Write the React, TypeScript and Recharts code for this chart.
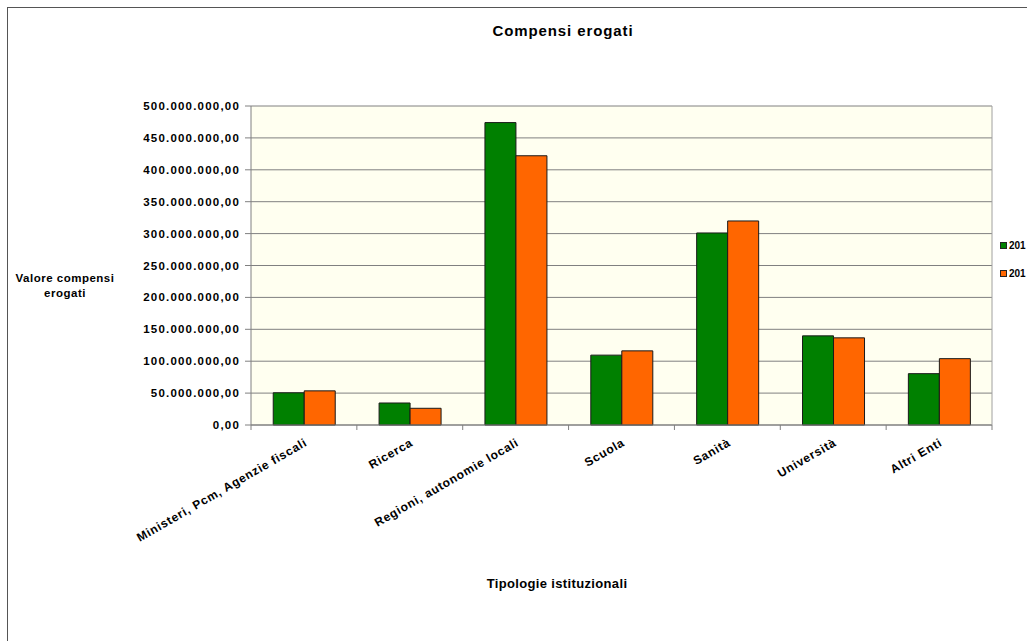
import { BarChart, Bar, XAxis, YAxis, CartesianGrid } from 'recharts';

const categories = [
  'Ministeri, Pcm, Agenzie fiscali',
  'Ricerca',
  'Regioni, autonomie locali',
  'Scuola',
  'Sanità',
  'Università',
  'Altri Enti',
];
const serieA = [50500000, 34500000, 474000000, 109500000, 301000000, 139700000, 80500000];
const serieB = [53500000, 26200000, 422000000, 116200000, 319800000, 136600000, 104000000];
const yTicks = [0, 50000000, 100000000, 150000000, 200000000, 250000000, 300000000, 350000000, 400000000, 450000000, 500000000];

const SERIES = [
  { key: 'a', name: '201', color: '#008000' },
  { key: 'b', name: '201', color: '#FF6600' },
];

const data = categories.map((name, i) => ({ name, a: serieA[i], b: serieB[i] }));

const W = 1027;
const H = 641;
const PLOT_LEFT = 251;
const PLOT_RIGHT = 992;
const PLOT_TOP = 106;
const PLOT_BOTTOM = 425;
const X_AXIS_H = 40;
const BAND = (PLOT_RIGHT - PLOT_LEFT) / categories.length;
const FONT = '"Liberation Sans", Arial, sans-serif';

const fmt = (v: number) => {
  const s = Math.round(v).toString().replace(/\B(?=(\d{3})+(?!\d))/g, '.');
  return s + ',00';
};

const XTick = (props: any) => {
  const { x, y, payload, index } = props;
  return (
    <g>
      {index === 0 && <line x1={x - BAND / 2} x2={x - BAND / 2} y1={y} y2={y + 5} stroke="#808080" />}
      <line x1={x + BAND / 2} x2={x + BAND / 2} y1={y} y2={y + 5} stroke="#808080" />
      <text
        x={0}
        y={0}
        transform={`translate(${x + 4},${y + 20}) rotate(-30)`}
        textAnchor="end"
        fontFamily={FONT}
        fontWeight="bold"
        fontSize={12}
        letterSpacing={0.75}
        fill="#000"
      >
        {payload.value}
      </text>
    </g>
  );
};

export default function App() {
  return (
    <div style={{ position: 'absolute', left: 0, top: 0, width: W, height: H, background: '#fff', overflow: 'hidden', fontFamily: FONT }}>
      <div style={{ position: 'absolute', left: 7, top: 7, right: 0, bottom: 0, borderLeft: '1px solid #555', borderTop: '1px solid #555' }} />
      <BarChart
        width={W}
        height={H}
        data={data}
        barCategoryGap="21%"
        barGap={0}
        margin={{ top: PLOT_TOP, right: W - PLOT_RIGHT - 1, bottom: H - PLOT_BOTTOM - X_AXIS_H, left: 0 }}
      >
        <CartesianGrid vertical={false} stroke="#808080" fill="#FFFFF0" fillOpacity={1} />
        <XAxis
          dataKey="name"
          height={X_AXIS_H}
          interval={0}
          tickSize={0}
          tickMargin={0}
          tickLine={false}
          axisLine={{ stroke: '#808080' }}
          tick={<XTick />}
        />
        <YAxis
          width={PLOT_LEFT}
          domain={[0, 500000000]}
          ticks={yTicks}
          interval={0}
          tickFormatter={fmt}
          tickSize={6}
          tickMargin={5}
          axisLine={{ stroke: '#808080' }}
          tickLine={{ stroke: '#808080' }}
          tick={{ fill: '#000', fontSize: 11.5, fontWeight: 'bold', fontFamily: FONT, letterSpacing: 1.2 }}
        />
        <YAxis yAxisId="r" orientation="right" width={1} tick={false} tickLine={false} axisLine={{ stroke: '#A0A0A0' }} />
        {SERIES.map((s) => (
          <Bar key={s.key} dataKey={s.key} name={s.name} fill={s.color} stroke="#1a1a1a" strokeWidth={1} isAnimationActive={false} />
        ))}
      </BarChart>
      <div style={{ position: 'absolute', left: 0, width: 1126, top: 22, textAlign: 'center', fontWeight: 'bold', fontSize: 15, letterSpacing: 0.9 }}>
        Compensi erogati
      </div>
      <div style={{ position: 'absolute', left: 8, width: 114, top: 271, textAlign: 'center', fontWeight: 'bold', fontSize: 11.5, lineHeight: '15px', letterSpacing: 0.5 }}>
        Valore compensi
        <br />
        erogati
      </div>
      <div style={{ position: 'absolute', left: 0, width: 1114, top: 576, textAlign: 'center', fontWeight: 'bold', fontSize: 13, letterSpacing: 0.35 }}>
        Tipologie istituzionali
      </div>
      {SERIES.map((s, i) => (
        <div key={s.key} style={{ position: 'absolute', left: 1000, top: 240 + i * 28, display: 'flex', alignItems: 'center', fontWeight: 'bold', fontSize: 10, whiteSpace: 'nowrap' }}>
          <span style={{ display: 'inline-block', width: 5, height: 5, background: s.color, border: '1px solid #222', marginRight: 2 }} />
          {s.name}
        </div>
      ))}
    </div>
  );
}
